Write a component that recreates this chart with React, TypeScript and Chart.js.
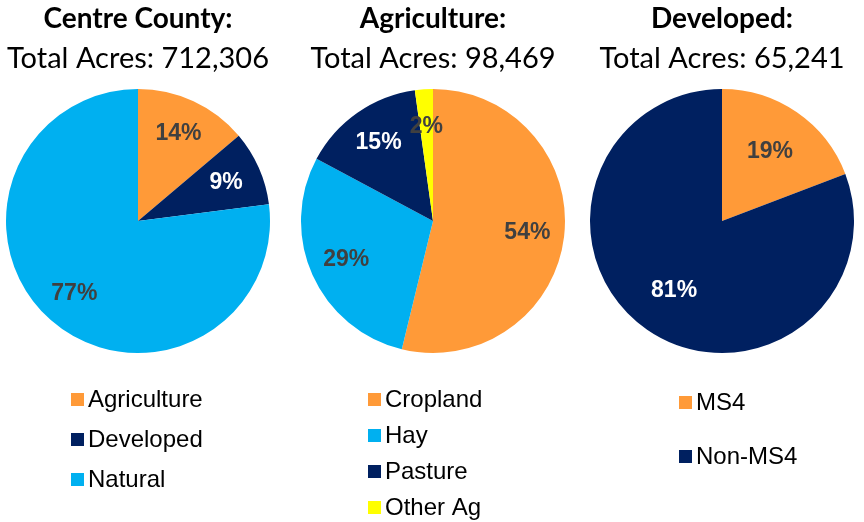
import React, { useEffect, useRef } from "react";
import { Chart, registerables } from "chart.js";

Chart.register(...registerables);

// ---- Data ----
const countyLabels = ["Agriculture", "Developed", "Natural"];
const countyValues = [13.82, 9.16, 77.02];

const agLabels = ["Cropland", "Hay", "Pasture", "Other Ag"];
const agValues = [53.8, 29.0, 15.0, 2.2];

const devLabels = ["MS4", "Non-MS4"];
const devValues = [19.2, 80.8];

const titles = ["Centre County:", "Agriculture:", "Developed:"];
const subtitles = ["Total Acres: 712,306", "Total Acres: 98,469", "Total Acres: 65,241"];

// ---- Styles ----
const ORANGE = "#FF9A38";
const NAVY = "#002060";
const BLUE = "#00B0F0";
const YELLOW = "#FFFF00";
const DARK = "#404040";
const WHITE = "#FFFFFF";

const CANVAS_W = 290;
const CANVAS_H = 522;

type Panel = {
  labels: string[];
  values: number[];
  colors: string[];
  labelColors: string[];
  title: string;
  subtitle: string;
  cx: number;
  labelR: number;
  legendX: number;
  legendY: number;
  legendGap: number;
};

const panels: Panel[] = [
  {
    labels: countyLabels,
    values: countyValues,
    colors: [ORANGE, NAVY, BLUE],
    labelColors: [DARK, WHITE, DARK],
    title: titles[0],
    subtitle: subtitles[0],
    cx: 138,
    labelR: 0.73,
    legendX: 71,
    legendY: 399,
    legendGap: 40,
  },
  {
    labels: agLabels,
    values: agValues,
    colors: [ORANGE, BLUE, NAVY, YELLOW],
    labelColors: [DARK, DARK, WHITE, DARK],
    title: titles[1],
    subtitle: subtitles[1],
    cx: 433,
    labelR: 0.72,
    legendX: 368,
    legendY: 399,
    legendGap: 36,
  },
  {
    labels: devLabels,
    values: devValues,
    colors: [ORANGE, NAVY],
    labelColors: [DARK, WHITE],
    title: titles[2],
    subtitle: subtitles[2],
    cx: 722,
    labelR: 0.64,
    legendX: 679,
    legendY: 402,
    legendGap: 54,
  },
];

const sliceLabelPlugin = {
  id: "sliceLabels",
  afterDatasetsDraw(chart: any, _args: any, opts: any) {
    const { ctx } = chart;
    const meta = chart.getDatasetMeta(0);
    const data = chart.data.datasets[0].data as number[];
    const total = data.reduce((a, b) => a + b, 0);
    ctx.save();
    ctx.font = "bold 23px 'Liberation Sans', Arial, sans-serif";
    ctx.textAlign = "center";
    ctx.textBaseline = "middle";
    meta.data.forEach((arc: any, i: number) => {
      const p = arc.getProps(["x", "y", "startAngle", "endAngle", "outerRadius"], true);
      const mid = (p.startAngle + p.endAngle) / 2;
      const r = p.outerRadius * opts.radius;
      const x = p.x + Math.cos(mid) * r;
      const y = p.y + Math.sin(mid) * r;
      ctx.fillStyle = opts.colors[i];
      ctx.fillText(Math.round((data[i] / total) * 100) + "%", x, y);
    });
    ctx.restore();
  },
};

const boxLegendPlugin = {
  id: "boxLegend",
  afterDraw(chart: any, _args: any, opts: any) {
    const { ctx } = chart;
    const ds = chart.data.datasets[0];
    const box = 13;
    ctx.save();
    ctx.font = "24px 'Liberation Sans', Arial, sans-serif";
    ctx.textAlign = "left";
    ctx.textBaseline = "middle";
    (chart.data.labels as string[]).forEach((label, i) => {
      const y = opts.y + i * opts.gap;
      ctx.fillStyle = ds.backgroundColor[i];
      ctx.fillRect(opts.x, Math.round(y - box / 2), box, box);
      ctx.fillStyle = "#000000";
      ctx.fillText(label, opts.x + box + 4, y + 1);
    });
    ctx.restore();
  },
};

function PiePanel({ panel }: { panel: Panel }) {
  const ref = useRef<HTMLCanvasElement | null>(null);
  const left = panel.cx - CANVAS_W / 2;

  useEffect(() => {
    if (!ref.current) return;
    const chart = new Chart(ref.current, {
      type: "pie",
      data: {
        labels: panel.labels,
        datasets: [
          {
            data: panel.values,
            backgroundColor: panel.colors,
            borderWidth: 0,
          },
        ],
      },
      options: {
        responsive: false,
        animation: false,
        layout: { padding: { top: 0, bottom: 169, left: 0, right: 0 } },
        plugins: {
          legend: { display: false },
          tooltip: { enabled: false },
          title: {
            display: true,
            text: panel.title,
            color: "#000000",
            font: { family: "Lato", size: 28, weight: "bold", lineHeight: 1.2 },
            padding: { top: 2, bottom: 0 },
          },
          subtitle: {
            display: true,
            text: panel.subtitle,
            color: "#000000",
            font: { family: "Lato", size: 29, weight: "normal", lineHeight: 1.2 },
            padding: { top: 6, bottom: 12.6 },
          },
          sliceLabels: { radius: panel.labelR, colors: panel.labelColors },
          boxLegend: {
            x: panel.legendX - left,
            y: panel.legendY,
            gap: panel.legendGap,
          },
        } as any,
      },
      plugins: [sliceLabelPlugin, boxLegendPlugin],
    });
    return () => chart.destroy();
  }, [panel, left]);

  return (
    <div style={{ position: "absolute", left, top: 0, width: CANVAS_W, height: CANVAS_H }}>
      <canvas ref={ref} width={CANVAS_W} height={CANVAS_H} style={{ display: "block" }} />
    </div>
  );
}

export default function App() {
  return (
    <div
      style={{
        position: "fixed",
        left: 0,
        top: 0,
        width: 864,
        height: 522,
        overflow: "hidden",
        background: "#ffffff",
      }}
    >
      {panels.map((p, i) => (
        <PiePanel key={i} panel={p} />
      ))}
    </div>
  );
}
